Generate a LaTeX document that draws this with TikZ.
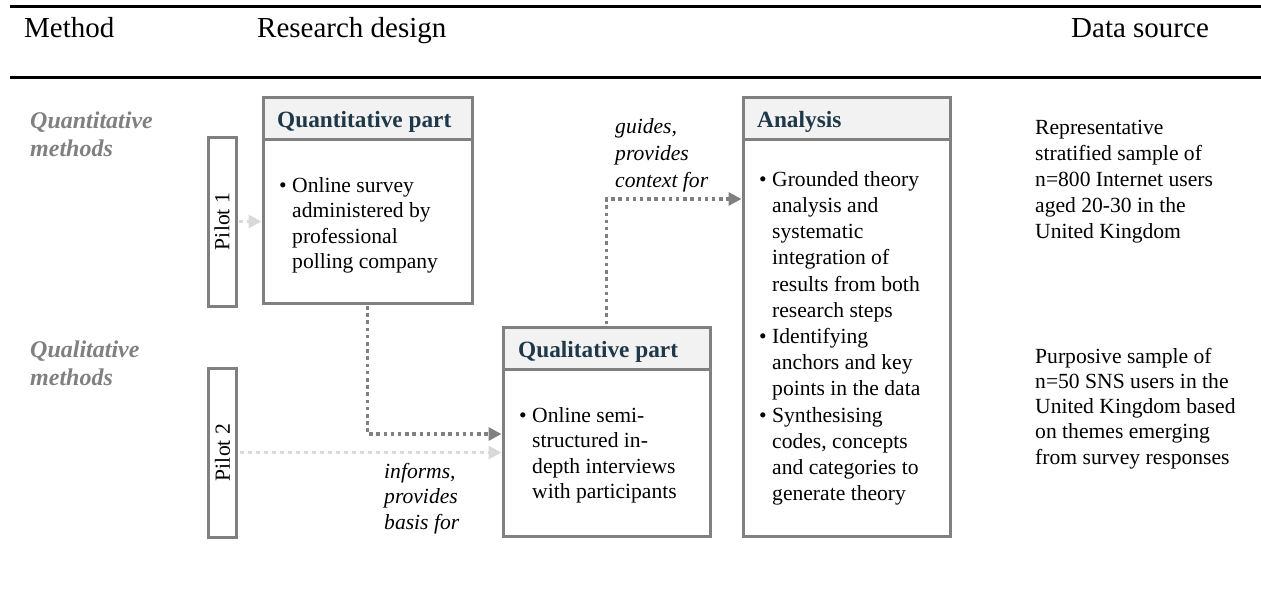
\documentclass[tikz,border=0pt]{standalone}
\usepackage{fontspec}
\setmainfont{Liberation Serif}
\usetikzlibrary{arrows.meta,calc}
\definecolor{boxgray}{HTML}{808080}
\definecolor{lightdot}{HTML}{D9D9D9}
\definecolor{bandfill}{HTML}{F2F2F2}
\definecolor{titleblue}{HTML}{1F3848}
\definecolor{methodgray}{HTML}{808080}
\newcommand{\bstr}{\rule{0pt}{17pt}}
\newcommand{\mstr}{\rule{0pt}{20pt}}
\newcommand{\bul}{\makebox[13pt][l]{•}}
\newcommand{\ind}{\hspace*{13pt}}
\begin{document}
\begin{tikzpicture}[x=1pt,y=-1pt,
  box/.style={draw=boxgray, line width=3pt, fill=white, inner sep=0pt},
  band/.style={draw=boxgray, line width=3pt, fill=bandfill, inner sep=0pt, minimum height=42pt, anchor=north},
  titletext/.style={font=\fontsize{23.3}{27}\selectfont\bfseries, text=titleblue, inner sep=0pt, anchor=base west},
  bodytext/.style={font=\fontsize{21.6}{25.5}\selectfont, align=left, inner sep=0pt, anchor=north west},
  hdr/.style={font=\fontsize{29}{33}\selectfont, inner sep=0pt, anchor=base west},
  meth/.style={font=\fontsize{24}{28}\selectfont\bfseries\itshape, text=methodgray, align=left, inner sep=0pt, anchor=north west},
  lbl/.style={font=\fontsize{21.6}{25.5}\selectfont\itshape, align=left, inner sep=0pt, anchor=north west},
  darkdot/.style={draw=boxgray, line width=3.3pt, dash pattern=on 3.5pt off 3.7pt, -{Triangle[length=13pt,width=13pt]}},
  lightarrow/.style={draw=lightdot, line width=3.5pt, dash pattern=on 4pt off 4pt, -{Triangle[length=13pt,width=13pt]}, shorten <=1.5pt}
]
\useasboundingbox (0,0) rectangle (1261,592);

% rules
\draw[line width=3.3pt] (10,6.5) -- (1261,6.5);
\draw[line width=3pt] (10,77.5) -- (1261,77.5);

% headers
\node[hdr] (hmethod) at (24,37) {Method};
\node[hdr] (hdesign) at (257,37) {Research design};
\node[hdr] (hsource) at (1071,37) {Data source};

% method labels
\node[meth] (mquant) at (30,108) {\mstr Quantitative\\methods};
\node[meth] (mqual) at (30,337) {\mstr Qualitative\\methods};

% boxes
\node[box, minimum width=209pt, minimum height=206pt] (quant) at (367.5,200) {};
\node[band, minimum width=209pt] (quanthead) at (quant.north) {};
\node[box, minimum width=207pt, minimum height=209pt] (qual) at (606.5,431.5) {};
\node[band, minimum width=207pt] (qualhead) at (qual.north) {};
\node[box, minimum width=207pt, minimum height=439pt] (analysis) at (846.5,316.5) {};
\node[band, minimum width=207pt] (analysishead) at (analysis.north) {};

\node[box, minimum width=28pt, minimum height=169pt] (pilot1) at (222,221.5) {};
\node[box, minimum width=28pt, minimum height=169pt] (pilot2) at (222.5,452.5) {};
\node[font=\fontsize{21.6}{25.5}\selectfont, rotate=90, inner sep=0pt] (pilot1t) at (pilot1.center) {Pilot 1};
\node[font=\fontsize{21.6}{25.5}\selectfont, rotate=90, inner sep=0pt] (pilot2t) at (pilot2.center) {Pilot 2};

% titles
\node[titletext] (quantt) at (277,127) {Quantitative part};
\node[titletext] (qualt) at (518,357) {Qualitative part};
\node[titletext] (analysist) at (757,127) {Analysis};

% box contents
\node[bodytext] (quantbody) at (279,175) {\bstr\bul Online survey\\\ind administered by\\\ind professional\\\ind polling company};
\node[bodytext] (qualbody) at (519,405) {\bstr\bul Online semi-\\\ind structured in-\\\ind depth interviews\\\ind with participants};
\node[bodytext, font=\fontsize{21.6}{26.2}\selectfont] (analysisbody) at (759,169) {\bstr\bul Grounded theory\\\ind analysis and\\\ind systematic\\\ind integration of\\\ind results from both\\\ind research steps\\\bul Identifying\\\ind anchors and key\\\ind points in the data\\\bul Synthesising\\\ind codes, concepts\\\ind and categories to\\\ind generate theory};

% data sources
\node[bodytext, font=\fontsize{21.6}{26}\selectfont] (src1) at (1035,117) {\bstr Representative\\stratified sample of\\n=800 Internet users\\aged 20-30 in the\\United Kingdom};
\node[bodytext, font=\fontsize{21.6}{25.2}\selectfont] (src2) at (1035,346) {\bstr Purposive sample of\\n=50 SNS users in the\\United Kingdom based\\on themes emerging\\from survey responses};

% connector labels
\node[lbl, font=\fontsize{21.6}{27}\selectfont\itshape] (guides) at (615,116) {\bstr guides,\\provides\\context for};
\node[lbl] (informs) at (384,461) {\bstr informs,\\provides\\basis for};

% connectors
\coordinate (qualin) at ($(qual.west)+(0,2.5)$);
\coordinate (anain) at (analysis.west |- 0,199);
\draw[lightarrow] (pilot1.east) -- (pilot1.east -| quant.west);
\draw[lightarrow] (pilot2.east) -- (pilot2.east -| qual.west);
\draw[darkdot, shorten <=1.5pt] (quant.south) |- (qualin);
\draw[darkdot, shorten <=1.5pt] (qual.north) |- (anain);
\end{tikzpicture}
\end{document}
